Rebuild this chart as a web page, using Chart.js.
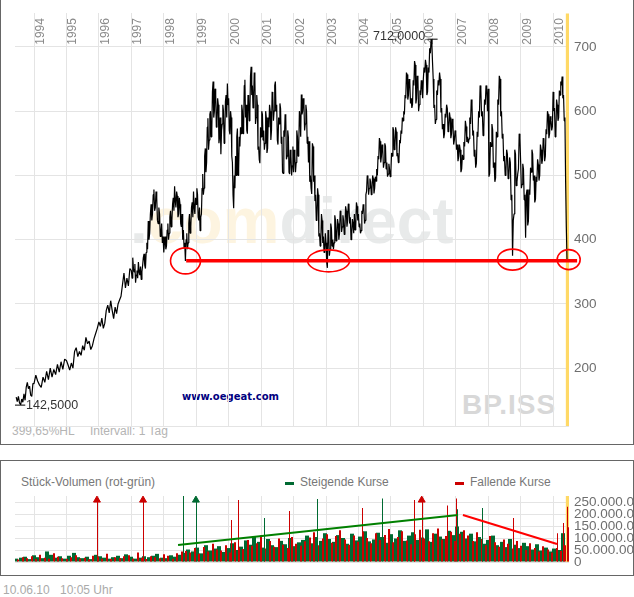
<!DOCTYPE html>
<html>
<head>
<meta charset="utf-8">
<script src="https://cdn.jsdelivr.net/npm/chart.js@4"></script>
<style>
  html, body { margin: 0; padding: 0; background: #fff; }
  body { position: relative; width: 634px; height: 597px; overflow: hidden; font-family: "Liberation Sans", Arial, sans-serif; }
  canvas { position: absolute; left: 0; }
  #priceChart { top: 0; }
  #volumeChart { top: 455px; }
  .panel { position: absolute; left: 0; width: 632px; border: 1px solid #666; }
  .txt { position: absolute; white-space: nowrap; line-height: 14px; }
</style>
</head>
<body>
<div class="panel" style="top:-1px;height:444px"></div>
<div class="panel" style="top:460px;height:114px"></div>

<div class="txt" style="left:130px;top:181px;font-size:64px;line-height:80px;font-weight:bold;color:#e8eaea">.<span style="color:#fdf4e0">com</span>direct</div>
<div class="txt" style="left:462px;top:389px;font-size:28px;line-height:32px;letter-spacing:1px;font-weight:bold;color:#d8d8d8">BP.ISS</div>
<div class="txt" style="left:182px;top:390px;font-family:'DejaVu Sans';font-weight:bold;font-size:10px;color:#000080">www.oegeat.com</div>
<div class="txt" style="left:12px;top:424px;font-size:12px;color:#b4b4b4">399,65%HL</div>
<div class="txt" style="left:90px;top:424px;font-size:12px;color:#b4b4b4">Intervall: 1 Tag</div>
<div class="txt" style="left:21px;top:475px;font-size:12px;color:#777">Stück-Volumen (rot-grün)</div>
<div style="position:absolute;left:285px;top:482px;width:9px;height:3px;background:#006a32"></div>
<div class="txt" style="left:300px;top:475px;font-size:12px;color:#777">Steigende Kurse</div>
<div style="position:absolute;left:455px;top:482px;width:9px;height:3px;background:#cc0000"></div>
<div class="txt" style="left:470px;top:475px;font-size:12px;color:#777">Fallende Kurse</div>
<div class="txt" style="left:3px;top:583px;font-size:12px;color:#aaa">10.06.10</div>
<div class="txt" style="left:60px;top:583px;font-size:12px;color:#aaa">10:05 Uhr</div>

<canvas id="priceChart" width="634" height="445"></canvas>
<canvas id="volumeChart" width="634" height="125"></canvas>
<div class="txt" style="left:373px;top:29px;font-size:12.5px;color:#333">712,0000</div>
<div class="txt" style="left:26px;top:398px;font-size:12.5px;color:#333">142,5000</div>

<script>
const years = [1994, 1995, 1996, 1997, 1998, 1999, 2000, 2001, 2002, 2003, 2004, 2005, 2006, 2007, 2008, 2009, 2010]
const priceTicks = [200, 300, 400, 500, 600, 700]
const volumeTicks = [0, 50, 100, 150, 200, 250]

// closing prices, one array per calendar year
const price1993 = [155, 148, 156, 146, 143, 152, 147, 160, 150, 170, 178, 168, 172, 158, 156, 176]
const price1994 = [176, 189, 180, 174, 170, 186, 178, 195, 182, 200, 186, 198, 190, 206, 194, 210, 198, 214]
const price1995 = [212, 205, 197, 208, 200, 226, 232, 218, 226, 220, 235, 228, 248, 238, 242, 229, 235, 246, 254, 262]
const price1996 = [272, 265, 278, 262, 270, 290, 298, 286, 305, 290, 277, 295, 285, 300, 306, 312, 330, 348, 325, 340, 328, 355]
const price1997 = [352, 340, 372, 355, 350, 362, 333, 345, 352, 340, 365, 350, 345, 358, 338, 350, 360, 372, 378, 360, 355, 380, 395, 385, 429, 400, 410, 440, 455, 430, 440, 470, 478, 445, 450, 475, 465, 430, 425, 450, 440, 405, 410, 425, 395, 405]
const price1998 = [380, 395, 405, 385, 390, 415, 425, 400, 410, 435, 445, 420, 430, 455, 465, 445, 483, 460, 450, 475, 468, 435, 440, 465, 455, 425, 420, 440, 400, 415, 387, 395, 367, 400, 410, 385, 395, 425, 440, 410, 420, 450, 458, 435, 475, 450, 440, 465]
const price1999 = [455, 480, 470, 435, 430, 450, 414, 435, 440, 480, 502, 470, 480, 530, 542, 505, 520, 575, 589, 540, 555, 595, 600, 560, 570, 630, 646, 590, 600, 635, 625, 575, 585, 620, 610, 550, 560, 590, 533, 570, 580, 610, 600, 550, 560, 615, 625, 590, 643, 610]
const price2000 = [620, 570, 564, 600, 590, 530, 520, 470, 449, 500, 480, 530, 500, 560, 573, 500, 510, 560, 545, 575, 565, 610, 600, 565, 580, 640, 649, 590, 610, 570, 565, 625, 620, 585, 600, 655, 669, 625, 640, 605, 620, 660, 650, 580, 590, 625, 610, 540, 545, 525, 519, 575]
const price2001 = [560, 600, 595, 555, 570, 540, 550, 600, 590, 535, 542, 590, 575, 610, 600, 555, 570, 630, 625, 585, 600, 640, 646, 600, 610, 555, 548, 590, 580, 612, 604, 550, 560, 505, 503, 570, 560, 595, 590, 525, 530, 570, 560, 505, 502, 540, 530, 500, 515, 545]
const price2002 = [505, 540, 530, 505, 520, 570, 560, 530, 545, 600, 590, 560, 626, 595, 600, 620, 610, 570, 580, 610, 600, 550, 560, 520, 553, 490, 500, 480, 471, 550, 545, 490, 500, 460, 470, 430, 434, 480, 470, 405, 410, 390, 398, 440, 430, 395, 405, 380, 385, 410]
const price2003 = [395, 365, 356, 415, 410, 375, 385, 425, 418, 390, 400, 385, 395, 438, 430, 398, 405, 432, 425, 400, 410, 445, 440, 412, 420, 438, 430, 408, 415, 452, 445, 420, 430, 456, 450, 425, 435, 400, 406, 432, 425, 410, 440, 415, 420, 458, 452, 430]
const price2004 = [440, 420, 425, 410, 414, 445, 440, 455, 450, 425, 430, 470, 475, 500, 496, 470, 480, 495, 490, 470, 478, 500, 495, 472, 480, 498, 491, 510, 500, 530, 525, 558, 553, 520, 530, 548, 540, 512, 520, 550, 545, 510, 520, 498, 502, 518, 510, 498]
const price2005 = [505, 535, 530, 575, 570, 540, 545, 575, 568, 530, 535, 520, 525, 555, 550, 570, 565, 590, 585, 600, 595, 625, 620, 660, 657, 618, 625, 650, 645, 612, 620, 605, 610, 648, 640, 678, 672, 612, 620, 655, 650, 600, 610, 632, 625, 648, 640, 620]
const price2006 = [650, 668, 660, 680, 672, 625, 630, 668, 660, 698, 690, 712, 708, 677, 650, 605, 610, 580, 587, 632, 625, 648, 640, 660, 650, 598, 605, 572, 580, 558, 565, 596, 590, 610, 604, 568, 575, 598, 590, 558, 565, 588, 580, 548, 555, 570]
const price2007 = [565, 540, 548, 522, 530, 548, 540, 505, 510, 532, 525, 552, 545, 585, 576, 552, 560, 550, 557, 590, 580, 618, 610, 562, 570, 530, 540, 512, 519, 568, 560, 600, 590, 640, 633, 592, 600, 562, 571, 618, 610, 640, 635, 600]
const price2008 = [635, 498, 503, 552, 545, 580, 571, 512, 520, 490, 496, 568, 560, 618, 610, 655, 650, 592, 600, 558, 565, 522, 530, 500, 506, 540, 533, 495, 500, 528, 520, 462, 470, 375, 430, 440, 540, 533, 484, 490, 502, 510, 565, 558]
const price2009 = [520, 480, 486, 518, 510, 462, 470, 403, 470, 478, 422, 429, 478, 470, 512, 505, 540, 533, 492, 500, 458, 463, 498, 490, 525, 517, 492, 500, 548, 540, 518, 525, 558, 550, 522, 530, 572, 564, 600, 595, 558, 565, 592, 585, 570, 576]
const price2010 = [630, 600, 605, 560, 564, 618, 610, 585, 590, 632, 625, 646, 640, 654, 620, 625, 585, 590, 491, 420, 370]

// [first year, last year] covered by each array above
const priceSpans = [
  [1993.45, 1994, price1993], [1994, 1995, price1994], [1995, 1996, price1995], [1996, 1997, price1996],
  [1997, 1998, price1997], [1998, 1999, price1998], [1999, 2000, price1999], [2000, 2001, price2000],
  [2001, 2002, price2001], [2002, 2003, price2002], [2003, 2004, price2003], [2004, 2005, price2004],
  [2005, 2006, price2005], [2006, 2007, price2006], [2007, 2008, price2007], [2008, 2009, price2008],
  [2009, 2010, price2009], [2010, 2010.45, price2010]
]

const supportYears = [1998.69, 2010.74]
const supportValues = [367, 367]
const todayYears = [2010.445, 2010.445]
const maxMarkYears = [2006.13, 2006.44]
const maxMarkValues = [712, 712]
const minMarkYears = [1993.39, 1993.73]
const minMarkValues = [142.5, 142.5]
const circleYears = [1998.67, 2003.08, 2008.75, 2010.48]
const circleValues = [367, 367, 369, 369]
const circleWidths = [15, 21, 15, 11.5]
const circleHeights = [13, 11, 10.5, 10]

// volume in millions of shares
const volumeUp = [
  14, 18, 22, 12, 28, 20, 16, 44, 30, 18, 24, 14, 26, 38, 20, 16, 22, 12, 30, 24, 18, 14, 20, 26, 16, 32, 22, 14, 18, 24, 20, 26, 34, 18, 16, 28, 22, 30,
  38, 52, 44, 60, 36, 70, 48, 56, 66, 42, 58, 78, 50, 64, 90, 72, 108, 84, 60, 96, 70, 62, 88, 74, 100, 66, 82,
  92, 110, 78, 104, 88, 120, 96, 84, 112, 100, 76, 118, 90, 106, 128, 86, 94, 122, 104, 80, 116, 98, 132, 88, 110, 124, 92, 102, 136, 84, 118, 106, 96, 130, 112, 148,
  126, 98, 118, 86, 104, 76, 92, 110, 70, 84, 62, 96, 72, 58, 80, 66, 52, 74, 48, 60, 44, 56, 50, 120
]
const volumeDown = [
  10, 20, 16, 24, 12, 30, 18, 14, 36, 22, 16, 12, 20, 28, 14, 18, 10, 26, 22, 14, 34, 12, 20, 16, 24, 28, 14, 40, 18, 12, 24, 20, 16, 32, 26, 14, 36, 44,
  46, 40, 58, 34, 62, 44, 76, 52, 48, 70, 40, 82, 60, 54, 92, 68, 78, 110, 56, 88, 64, 98, 72, 58, 104, 76, 68,
  86, 102, 124, 70, 98, 116, 80, 108, 132, 94, 72, 110, 84, 126, 100, 78, 120, 92, 112, 138, 82, 104, 128, 90, 74, 116, 134, 98, 86, 120, 140, 94, 108, 126, 88, 118,
  132, 110, 88, 124, 96, 70, 108, 82, 64, 94, 76, 56, 88, 68, 50, 78, 58, 44, 66, 52, 40, 58, 46, 70
]
const upSpikeYears = [1998.59, 1998.99, 2001.09, 2002.72, 2004.73, 2007.04, 2007.81]
const upSpikeValues = [275, 260, 183, 262, 265, 220, 225]
const downSpikeYears = [1995.94, 1997.36, 2000.07, 2000.29, 2001.86, 2004.11, 2005.71, 2005.95, 2006.73, 2007.01, 2008.77, 2010.12, 2010.31, 2010.43, 2010.47]
const downSpikeValues = [260, 260, 175, 258, 212, 225, 258, 260, 235, 265, 183, 120, 163, 230, 145]
const upArrowYears = [1998.99]
const downArrowYears = [1995.94, 1997.36, 2005.95]
const arrowValues = [258, 258, 258]
const upTrendYears = [1998.44, 2007.07]
const upTrendValues = [71, 196]
const downTrendYears = [2007.22, 2010.12]
const downTrendValues = [196, 75]

const xMin = 1993.414
const xMax = 2010.49
const gridColor = '#e4e4e4'
const tickColor = '#6e6e6e'
const up = '#006a32'
const down = '#cc0000'

const pairs = (xs, ys) => xs.map((x, i) => ({ x: x, y: ys[i] }))

const priceSeries = []
priceSpans.forEach(([from, to, values]) => {
  values.forEach((v, i) => priceSeries.push({ x: from + (to - from) * i / values.length, y: v }))
})

const volumeStart = 1993.45
const volumeStep = 17 / volumeUp.length

// put a bar on a whole pixel of the 554px wide plot so it stays crisp
const pxPerYear = 554 / (xMax - xMin)
const snapYear = (year) => xMin + Math.round((year - xMin) * pxPerYear) / pxPerYear
const snapSpike = (year) => snapYear(year) + 0.5 / pxPerYear

const lineSet = (data, color, width, order, extra) => Object.assign({
  type: 'line', data: data, borderColor: color, backgroundColor: color, borderWidth: width,
  pointRadius: 0, tension: 0, order: order
}, extra)

const barSet = (data, color, thickness, order) => ({
  type: 'bar', data: data, backgroundColor: color, barThickness: thickness, grouped: false, inflateAmount: 0, order: order
})

const xAxis = () => ({
  type: 'linear', position: 'top', min: xMin, max: xMax, offset: false,
  afterBuildTicks: (s) => { s.ticks = years.map(y => ({ value: y })) },
  afterFit: (s) => { s.height = 0 },
  grid: { color: gridColor, drawTicks: false, offset: false },
  border: { display: false },
  ticks: { display: false }
})

const yAxis = (min, max, tickValues, format) => ({
  type: 'linear', position: 'right', min: min, max: max,
  afterBuildTicks: (s) => { s.ticks = tickValues.map(v => ({ value: v })) },
  afterFit: (s) => { s.width = 65 },
  grid: { color: gridColor, drawTicks: false },
  border: { display: false },
  ticks: {
    autoSkip: false, padding: 5, color: tickColor,
    font: { family: 'Liberation Sans', size: 13.5 },
    callback: format
  }
})

// year labels stand upright inside the plot, just right of their grid line
const yearLabelsPlugin = {
  id: 'yearLabels',
  beforeDatasetsDraw(chart) {
    const { ctx, scales, chartArea } = chart
    ctx.save()
    ctx.fillStyle = '#8a8a8a'
    ctx.font = '12px "Liberation Sans"'
    ctx.textAlign = 'right'
    ctx.textBaseline = 'alphabetic'
    years.forEach((year) => {
      ctx.save()
      ctx.translate(scales.x.getPixelForValue(year) + 10, chartArea.top + 5)
      ctx.rotate(-Math.PI / 2)
      ctx.fillText(String(year), 0, 0)
      ctx.restore()
    })
    ctx.restore()
  }
}

// red circles around the touches of the support line
const circlesPlugin = {
  id: 'circles',
  afterDatasetsDraw(chart) {
    const { ctx, scales } = chart
    ctx.save()
    ctx.strokeStyle = '#ff0000'
    ctx.lineWidth = 1.6
    circleYears.forEach((year, i) => {
      ctx.beginPath()
      ctx.ellipse(scales.x.getPixelForValue(year), scales.y.getPixelForValue(circleValues[i]), circleWidths[i], circleHeights[i], 0, 0, Math.PI * 2)
      ctx.stroke()
    })
    ctx.restore()
  }
}

new Chart(document.getElementById('priceChart'), {
  type: 'line',
  data: {
    datasets: [
      lineSet(pairs(supportYears, supportValues), '#ff0000', 3.5, 1, { clip: false }),
      lineSet(pairs(maxMarkYears, maxMarkValues), '#000', 1, 2),
      lineSet(pairs(minMarkYears, minMarkValues), '#000', 1, 2),
      lineSet(priceSeries, '#000', 1.2, 3, { borderJoinStyle: 'bevel' }),
      lineSet([{ x: todayYears[0], y: 110 }, { x: todayYears[1], y: 752 }], '#ffd966', 3.4, 4)
    ]
  },
  options: {
    responsive: false,
    devicePixelRatio: 1,
    animation: false,
    layout: { padding: { left: 15, top: 11, right: 0, bottom: 19 } },
    plugins: { legend: { display: false }, tooltip: { enabled: false } },
    scales: {
      x: xAxis(),
      y: yAxis(110, 752.6, [110].concat(priceTicks), (v) => (v === 110 ? '' : String(v)))
    }
  },
  plugins: [yearLabelsPlugin, circlesPlugin]
})

new Chart(document.getElementById('volumeChart'), {
  type: 'bar',
  data: {
    datasets: [
      lineSet(pairs(upTrendYears, upTrendValues), '#008000', 2, 1),
      lineSet(pairs(downTrendYears, downTrendValues), '#ff0000', 2, 1),
      { type: 'scatter', data: pairs(upArrowYears, arrowValues), pointStyle: 'triangle', pointRadius: 4, backgroundColor: up, borderColor: up, order: 2 },
      { type: 'scatter', data: pairs(downArrowYears, arrowValues), pointStyle: 'triangle', pointRadius: 4, backgroundColor: down, borderColor: down, order: 2 },
      barSet(pairs(upSpikeYears.map(snapSpike), upSpikeValues), up, 1, 3),
      barSet(pairs(downSpikeYears.map(snapSpike), downSpikeValues), down, 1, 3),
      barSet(volumeDown.map((v, i) => ({ x: snapYear(volumeStart + (i + 0.5) * volumeStep), y: v })), down, 2, 4),
      barSet(volumeUp.map((v, i) => ({ x: snapYear(volumeStart + i * volumeStep), y: v })), up, 4, 5),
      lineSet([{ x: todayYears[0], y: 0 }, { x: todayYears[1], y: 275 }], '#ffd966', 3.4, 6)
    ]
  },
  options: {
    responsive: false,
    devicePixelRatio: 1,
    animation: false,
    layout: { padding: { left: 15, top: 41, right: 0, bottom: 18 } },
    plugins: { legend: { display: false }, tooltip: { enabled: false } },
    scales: {
      x: xAxis(),
      y: yAxis(0, 275, volumeTicks, (v) => (v === 0 ? '0' : v + '.000.000'))
    }
  }
})
</script>
</body>
</html>
